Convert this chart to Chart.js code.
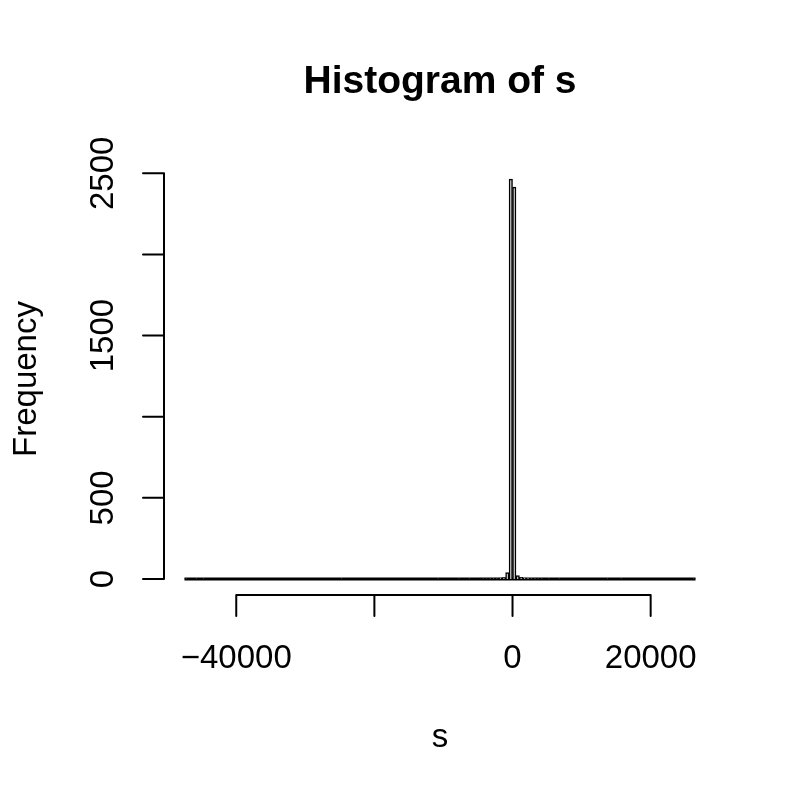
<!DOCTYPE html>
<html>
<head>
<meta charset="utf-8">
<title>Histogram of s</title>
<script src="https://cdn.jsdelivr.net/npm/chart.js@4.4.1/dist/chart.umd.min.js"></script>
<style>
    html, body { margin: 0; padding: 0; background: #fff; }
    #wrap { width: 800px; height: 800px; }
</style>
</head>
<body>
<div id="wrap"><canvas id="hist" width="800" height="800"></canvas></div>
<script>
// Histogram bins are 500 wide; only the non-empty bins are listed (left edges)
const binWidth = 500;
const binRange = [-47500, 26500];
const binStarts = [-47500, -46000, -45000, -25000, -11000, -8000, -6500,
    -4500, -4000, -3500, -3000, -2500, -2000, -1500, -1000, -500,
    0, 500, 1000, 1500, 2000, 2500, 3000, 3500, 4000, 5000, 6500, 13500, 15500, 26000];
const binCounts = [1, 1, 1, 1, 1, 1, 1,
    1, 1, 2, 2, 3, 5, 8, 40, 2465,
    2415, 21, 10, 6, 4, 3, 2, 1, 1, 1, 1, 1, 1, 1];

const xTicks = [-40000, -20000, 0, 20000];
const yTicks = [0, 500, 1000, 1500, 2000, 2500];

const titleText = 'Histogram of s';
const xLabel = 's';
const yLabel = 'Frequency';

const FONT = '"Liberation Sans", Arial, Helvetica, sans-serif';

/**
 * Format a tick number the way R does (true minus sign)
 */
function fmtTick(v) {
    return v < 0 ? '\u2212' + Math.abs(v) : String(v);
}

/**
 * Draw R-style axes, title and axis labels
 */
const baseAxesPlugin = {
    id: 'baseAxes',
    afterDraw(chart) {
        const { ctx, chartArea: area, scales: { x, y } } = chart;
        const tickLen = 21;

        ctx.save();
        ctx.strokeStyle = '#000';
        ctx.fillStyle = '#000';
        ctx.lineWidth = 2;
        ctx.lineCap = 'round';

        // x axis: line spans first to last tick
        const xs = xTicks.map(v => x.getPixelForValue(v));
        ctx.beginPath();
        ctx.moveTo(xs[0], area.bottom);
        ctx.lineTo(xs[xs.length - 1], area.bottom);
        xs.forEach(px => {
            ctx.moveTo(px, area.bottom);
            ctx.lineTo(px, area.bottom + tickLen);
        });
        ctx.stroke();

        // y axis
        const ys = yTicks.map(v => y.getPixelForValue(v));
        ctx.beginPath();
        ctx.moveTo(area.left, ys[0]);
        ctx.lineTo(area.left, ys[ys.length - 1]);
        ys.forEach(py => {
            ctx.moveTo(area.left, py);
            ctx.lineTo(area.left - tickLen, py);
        });
        ctx.stroke();

        // tick labels, skipping the ones that would crowd (like R does)
        ctx.font = '33px ' + FONT;
        ctx.textAlign = 'center';
        ctx.textBaseline = 'alphabetic';
        const gap = 1.2 * 33;

        let lastRight = -Infinity;
        xTicks.forEach((v, i) => {
            const label = fmtTick(v);
            const w = ctx.measureText(label).width;
            if (xs[i] - w / 2 < lastRight + gap) return;
            ctx.fillText(label, xs[i], 668);
            lastRight = xs[i] + w / 2;
        });

        let lastTop = Infinity;
        yTicks.forEach((v, i) => {
            const label = fmtTick(v);
            const w = ctx.measureText(label).width;
            if (ys[i] + w / 2 > lastTop - gap) return;
            ctx.save();
            ctx.translate(113, ys[i]);
            ctx.rotate(-Math.PI / 2);
            ctx.fillText(label, 0, 0);
            ctx.restore();
            lastTop = ys[i] - w / 2;
        });

        const midX = (area.left + area.right) / 2;
        const midY = (area.top + area.bottom) / 2;

        // axis titles
        ctx.fillText(xLabel, midX, 747);
        ctx.save();
        ctx.translate(36, midY);
        ctx.rotate(-Math.PI / 2);
        ctx.fillText(yLabel, 0, 0);
        ctx.restore();

        // main title
        ctx.font = 'bold 39px ' + FONT;
        ctx.fillText(titleText, midX, 93);

        ctx.restore();
    }
};

document.addEventListener('DOMContentLoaded', function() {
    const ctx = document.getElementById('hist').getContext('2d');

    const maxCount = Math.max(...binCounts);
    const xPad = (binRange[1] - binRange[0]) * 0.04;

    new Chart(ctx, {
        type: 'bar',
        data: {
            datasets: [
                {
                    type: 'bar',
                    data: binStarts.map((s, i) => ({ x: s + binWidth / 2, y: binCounts[i] })),
                    backgroundColor: '#d9d9d9',
                    borderColor: '#000000',
                    borderWidth: 1.5,
                    barPercentage: 1,
                    categoryPercentage: 1
                },
                {
                    // empty bins still get an outline in R -> baseline across the range
                    type: 'line',
                    data: [{ x: binRange[0], y: 0 }, { x: binRange[1], y: 0 }],
                    borderColor: '#000000',
                    borderWidth: 3,
                    pointRadius: 0
                }
            ]
        },
        options: {
            responsive: false,
            animation: false,
            layout: {
                padding: { left: 164, right: 84, top: 163, bottom: 205 }
            },
            plugins: {
                legend: { display: false },
                tooltip: { enabled: false }
            },
            scales: {
                x: {
                    type: 'linear',
                    display: false,
                    offset: false,
                    min: binRange[0] - xPad,
                    max: binRange[1] + xPad
                },
                y: {
                    display: false,
                    min: -0.04 * maxCount,
                    max: 1.04 * maxCount
                }
            }
        },
        plugins: [baseAxesPlugin]
    });
});
</script>
</body>
</html>
